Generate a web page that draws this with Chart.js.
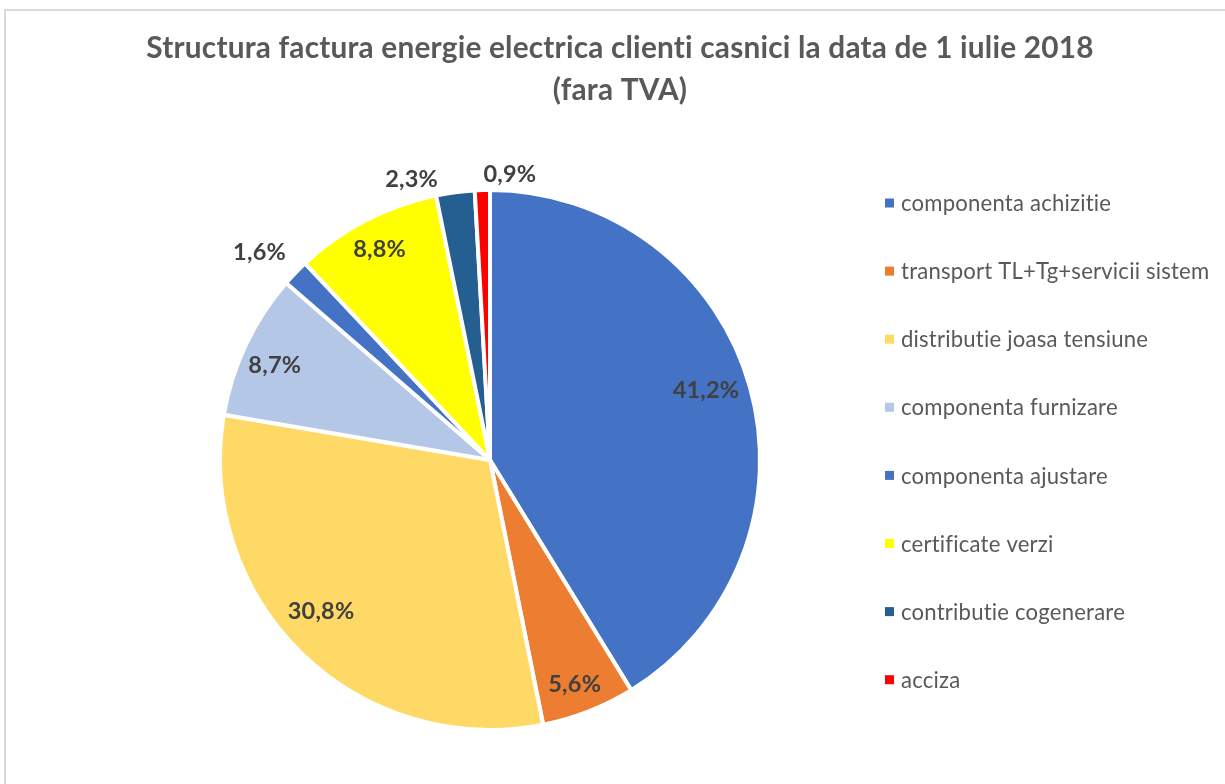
<!DOCTYPE html>
<html>
<head>
<meta charset="utf-8">
<script src="https://cdn.jsdelivr.net/npm/chart.js@4/dist/chart.umd.min.js"></script>
<style>
  html, body { margin: 0; padding: 0; background: #fff; overflow: hidden; }
  #wrap { position: relative; width: 1225px; height: 784px; }
  #frame { position: absolute; left: 4px; top: 9px; width: 1300px; height: 900px; border: 2px solid #d9d9d9; box-sizing: border-box; }
  canvas { position: absolute; left: 0; top: 0; font-variant-ligatures: none; }
</style>
</head>
<body>
<div id="wrap">
  <div id="frame"></div>
  <canvas id="c" width="1225" height="784"></canvas>
</div>
<script>
const titleLines = ['Structura factura energie electrica clienti casnici la data de 1 iulie 2018', '(fara TVA)'];
const categories = [
  'componenta achizitie',
  'transport TL+Tg+servicii sistem',
  'distributie joasa tensiune',
  'componenta furnizare',
  'componenta ajustare',
  'certificate verzi',
  'contributie cogenerare',
  'acciza'
];
const values = [41.2, 5.6, 30.8, 8.7, 1.6, 8.8, 2.3, 0.9];
const colors = ['#4472C4', '#ED7D31', '#FFD966', '#B4C7E7', '#4472C4', '#FFFF00', '#255E91', '#FF0000'];

// label placement (style): radial factor of outer radius and angular nudge in degrees
const labelFactor = [0.84, 0.89, 0.84, 0.87, 1.15, 0.88, 1.08, 1.06];
const labelNudge  = [-2, 0.8, 4, -1.7, -1.8, -0.3, -8.2, 5.6];

function fmt(v) { return v.toFixed(1).replace('.', ',') + '%'; }

function fitSize(ctx, text, weight, family, target) {
  ctx.font = weight + ' 20px ' + family;
  return 20 * target / ctx.measureText(text).width;
}

const decor = {
  id: 'decor',
  afterDraw(chart) {
    const ctx = chart.ctx;
    const fam = 'Lato, "Open Sans", sans-serif';
    ctx.save();
    try { ctx.letterSpacing = '0.2px'; } catch (e) {}
    try { ctx.textRendering = 'optimizeSpeed'; } catch (e) {}
    // title
    const ts = fitSize(ctx, titleLines[0], 'bold', fam, 955);
    ctx.font = 'bold ' + ts.toFixed(2) + 'px ' + fam;
    ctx.fillStyle = '#595959';
    ctx.textAlign = 'center';
    ctx.textBaseline = 'middle';
    ctx.fillText(titleLines[0], 620, 48);
    ctx.fillText(titleLines[1], 620, 90);

    // legend
    const ls = fitSize(ctx, categories[1], 'normal', fam, 309);
    ctx.font = 'normal ' + ls.toFixed(2) + 'px ' + fam;
    ctx.textAlign = 'left';
    categories.forEach((c, i) => {
      const y = 203 + i * 68.1;
      ctx.fillStyle = colors[i];
      ctx.fillRect(885, y - 4.5, 9, 9);
      ctx.fillStyle = '#595959';
      ctx.fillText(c, 901, y + 1);
    });

    // data labels
    const ds = fitSize(ctx, '5,6%', 'bold', fam, 53);
    ctx.font = 'bold ' + ds.toFixed(2) + 'px ' + fam;
    ctx.fillStyle = '#404040';
    ctx.textAlign = 'center';
    const meta = chart.getDatasetMeta(0);
    meta.data.forEach((arc, i) => {
      const p = arc.getProps(['x', 'y', 'startAngle', 'endAngle', 'outerRadius'], true);
      const a = (p.startAngle + p.endAngle) / 2 + labelNudge[i] * Math.PI / 180;
      const r = p.outerRadius * labelFactor[i];
      ctx.fillText(fmt(values[i]), p.x + Math.cos(a) * r, p.y + Math.sin(a) * r);
    });
    ctx.restore();
  }
};

new Chart(document.getElementById('c'), {
  type: 'pie',
  data: {
    labels: categories,
    datasets: [{
      data: values,
      backgroundColor: colors,
      borderColor: '#ffffff',
      borderWidth: 4
    }]
  },
  options: {
    responsive: false,
    animation: false,
    layout: { padding: { left: 218, right: 1225 - 762, top: 188, bottom: 784 - 732 } },
    plugins: {
      legend: { display: false },
      title: { display: false },
      tooltip: { enabled: false }
    }
  },
  plugins: [decor]
});
</script>
</body>
</html>
